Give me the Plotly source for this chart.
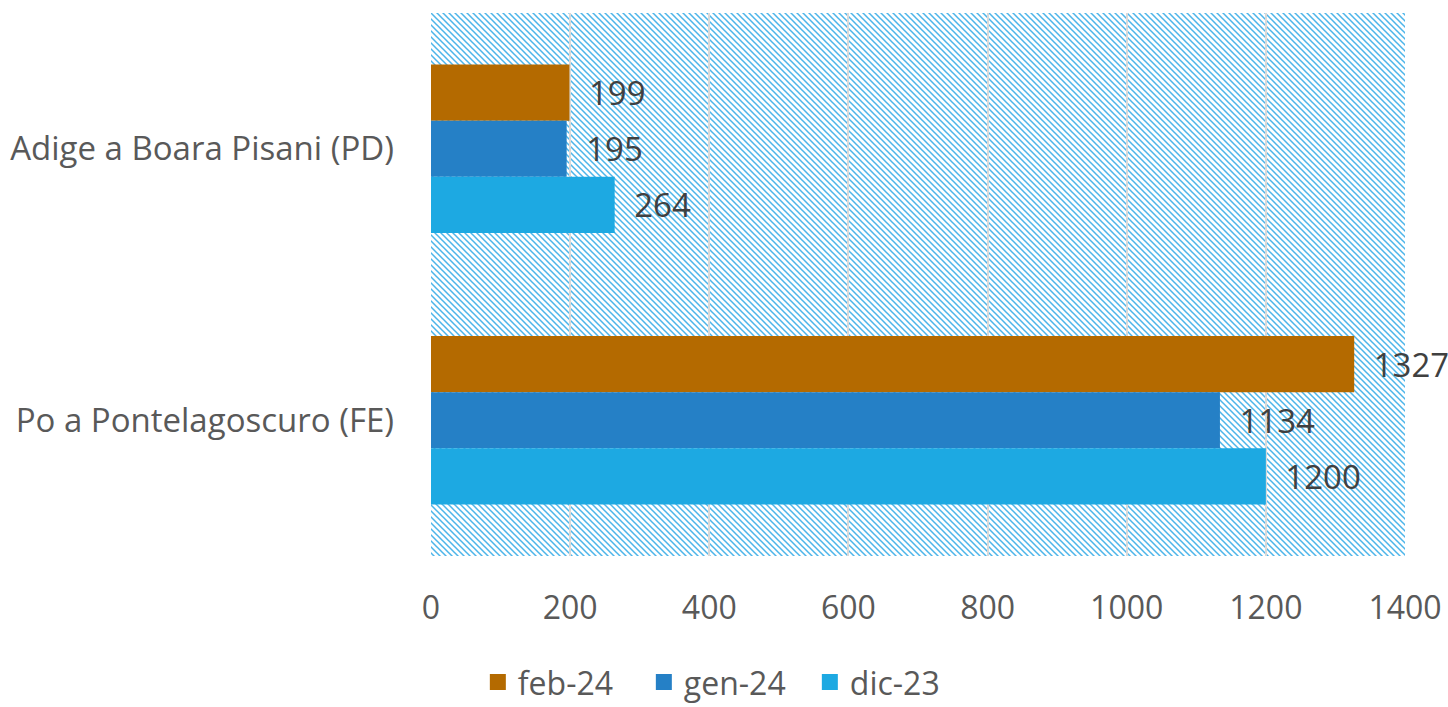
import urllib.parse
import plotly.graph_objects as go

# Stazioni e portate per mese
stations = ["Adige a Boara Pisani (PD)", "Po a Pontelagoscuro (FE)"]
months = ["feb-24", "gen-24", "dic-23"]
feb_24 = [199, 1327]
gen_24 = [195, 1134]
dic_23 = [264, 1200]
x_ticks = [0, 200, 400, 600, 800, 1000, 1200, 1400]

series = [feb_24, gen_24, dic_23]
colors = ["#B46A00", "#2580C6", "#1DA9E2"]
font_family = "'Open Sans', Lato, sans-serif"
text_color = "#595959"

W, H = 1448, 707
margin = dict(l=431, r=43, t=13, b=151)
plot_w = W - margin["l"] - margin["r"]
plot_h = H - margin["t"] - margin["b"]

# Diagonal hatch for the plotting area background
period = 6
hatch_svg = (
    f'<svg xmlns="http://www.w3.org/2000/svg" width="{plot_w}" height="{plot_h}" '
    f'viewBox="0 0 {plot_w} {plot_h}" preserveAspectRatio="none">'
    f'<defs><pattern id="h" width="{period}" height="{period}" patternUnits="userSpaceOnUse">'
    f'<rect width="{period}" height="{period}" fill="#ffffff"/>'
    f'<path d="M-1,-1 L{period+1},{period+1} M-1,{period-1} L1,{period+1} M{period-1},-1 L{period+1},1" '
    f'stroke="#4cb5ea" stroke-width="1.5"/>'
    f'</pattern></defs><rect width="100%" height="100%" fill="url(#h)"/></svg>'
)
hatch_src = "data:image/svg+xml;charset=utf-8," + urllib.parse.quote(hatch_svg)

fig = go.Figure()
for name, vals, col in zip(months, series, colors):
    fig.add_trace(go.Bar(
        y=stations, x=vals, name=name, orientation="h",
        marker=dict(color=col, line=dict(width=0)),
        texttemplate="\u2002%{x}", textposition="outside",
        textfont=dict(size=33, color="#404040", family=font_family),
        constraintext="none", cliponaxis=False, showlegend=False,
    ))
    # legend entry with a larger square swatch
    fig.add_trace(go.Scatter(
        x=[None], y=[None], mode="markers", name=name,
        marker=dict(symbol="square", size=20, color=col),
        showlegend=True,
    ))

fig.update_layout(
    width=W, height=H,
    margin=margin,
    paper_bgcolor="white",
    plot_bgcolor="rgba(0,0,0,0)",
    barmode="group",
    bargap=0.38,
    bargroupgap=0,
    font=dict(family=font_family, color=text_color, size=33),
    images=[dict(
        source=hatch_src, xref="paper", yref="paper",
        x=0, y=1, sizex=1, sizey=1, xanchor="left", yanchor="top",
        sizing="stretch", layer="below",
    )],
    xaxis=dict(
        range=[0, 1400], tickvals=x_ticks, automargin=False,
        showgrid=True, gridcolor="#d9d9d9", gridwidth=2,
        zeroline=False, showline=False,
        tickfont=dict(size=32, color=text_color),
        ticks="", ticklabelstandoff=30,
    ),
    yaxis=dict(
        autorange="reversed", automargin=False,
        showgrid=False, zeroline=False,
        showline=False, ticks="",
        tickfont=dict(size=33, color=text_color),
        ticklabelstandoff=36,
    ),
    legend=dict(
        orientation="h", xref="container", yref="container",
        x=0.33, y=0.035, xanchor="left", yanchor="middle",
        font=dict(size=32, color=text_color),
        itemwidth=30, entrywidth=121, entrywidthmode="pixels",
    ),
)

fig.write_html("out.html")
